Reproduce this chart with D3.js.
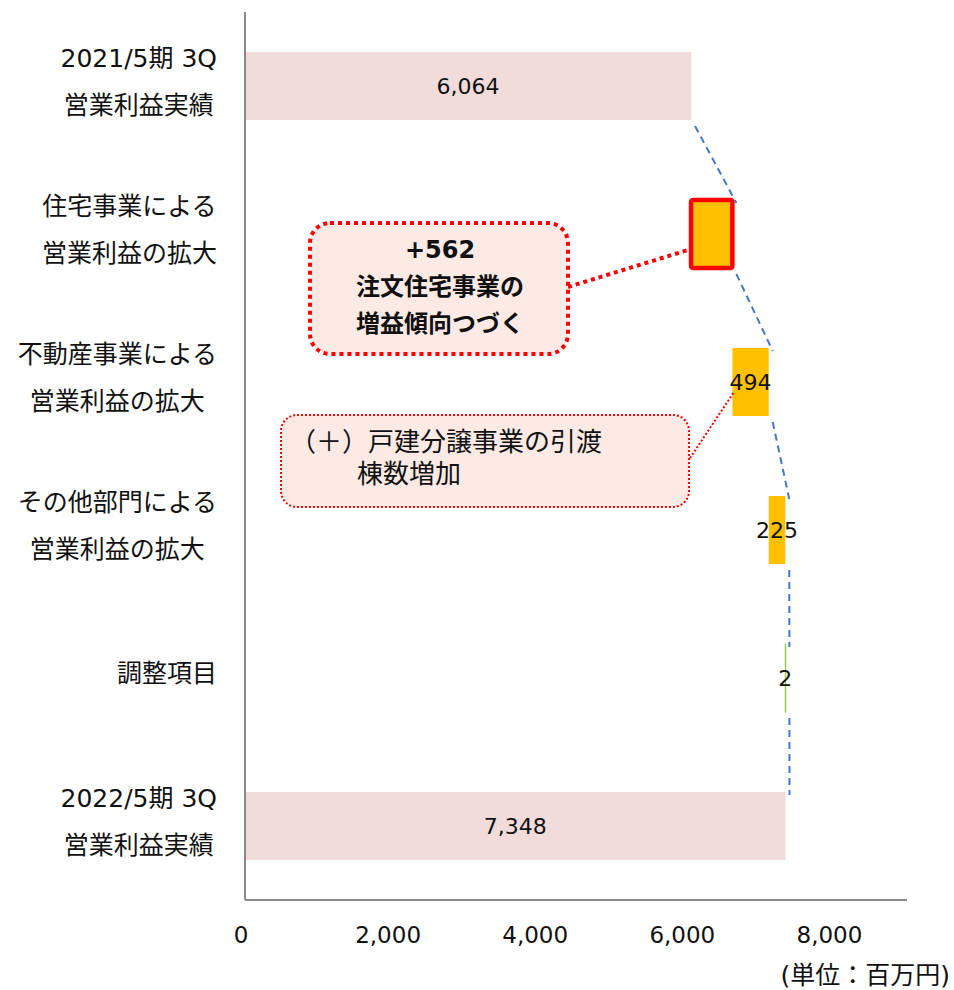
<!DOCTYPE html>
<html>
<head>
<meta charset="utf-8">
<script src="https://cdn.jsdelivr.net/npm/d3@7"></script>
<style>
  body { margin: 0; background: #fff; }
  svg text { font-family: 'DejaVu Sans', 'Noto Sans CJK JP', sans-serif; }
</style>
</head>
<body>
<svg id="chart" width="954" height="990"></svg>
<script>
// waterfall data
const categories = [
    ["2021/5期 3Q", "営業利益実績"],
    ["住宅事業による", "営業利益の拡大"],
    ["不動産事業による", "営業利益の拡大"],
    ["その他部門による", "営業利益の拡大"],
    ["調整項目"],
    ["2022/5期 3Q", "営業利益実績"]
];
const values = [6064, 562, 494, 225, 2, 7348];
const kinds = ["total", "delta", "delta", "delta", "delta", "total"];
const tickValues = [0, 2000, 4000, 6000, 8000];
const unitLabel = "(単位：百万円)";
const note1Lines = ["注文住宅事業の", "増益傾向つづく"];
const note2Lines = ["（＋）戸建分譲事業の引渡", "棟数増加"];

const svg = d3.select("#chart");
const plotLeft = 245, plotRight = 907, plotTop = 12, plotBottom = 900;

let x = d3.scaleLinear().domain([0, 9000]).range([plotLeft, plotRight]);
let y = d3.scaleBand().domain(d3.range(values.length))
    .range([plotTop, plotBottom]).paddingInner(0.54).paddingOuter(0.27);

// start / end of every bar
let cum = 0;
let bars = values.map(function(v, i) {
    let b;
    if (kinds[i] === "total") { b = {i: i, v: v, x0: 0, x1: v}; cum = v; }
    else { b = {i: i, v: v, x0: cum, x1: cum + v}; cum += v; }
    return b;
});

// dashed connectors between bars
const dx = 4;
for (let i = 0; i < bars.length - 1; i++) {
    svg.append("line")
        .attr("x1", x(bars[i].x1) + dx).attr("y1", y(i) + y.bandwidth() + 6)
        .attr("x2", x(bars[i + 1].x1) + dx)
        .attr("y2", y(i + 1) + 3)
        .attr("stroke", "#4677c2").attr("stroke-width", 2)
        .attr("stroke-dasharray", "7 5");
}

// bars
svg.selectAll("rect.bar").data(bars).enter().append("rect")
    .attr("class", "bar")
    .attr("x", d => x(d.x0))
    .attr("y", d => y(d.i))
    .attr("width", d => Math.max(0.5, x(d.x1) - x(d.x0)))
    .attr("height", y.bandwidth())
    .attr("fill", d => kinds[d.i] === "total" ? "#f2dcdb" : (d.v < 10 ? "none" : "#ffc000"))
    .attr("stroke", d => d.i === 1 ? "#ff0000" : (d.v < 10 ? "#92d050" : "none"))
    .attr("stroke-width", d => d.i === 1 ? 4.5 : 1)
    .attr("rx", d => d.i === 1 ? 2 : 0);

// value labels
svg.selectAll("text.val").data(bars.filter(d => d.i !== 1)).enter().append("text")
    .attr("class", "val")
    .attr("x", d => (x(d.x0) + x(d.x1)) / 2)
    .attr("y", d => y(d.i) + y.bandwidth() / 2)
    .attr("dy", "0.36em")
    .attr("text-anchor", "middle")
    .attr("font-size", 22)
    .attr("fill", "#111")
    .text(d => d3.format(",")(d.v));

// axes lines
svg.append("line").attr("x1", plotLeft).attr("x2", plotLeft).attr("y1", plotTop).attr("y2", plotBottom)
    .attr("stroke", "#898989").attr("stroke-width", 2);
svg.append("line").attr("x1", plotLeft).attr("x2", plotRight).attr("y1", plotBottom).attr("y2", plotBottom)
    .attr("stroke", "#898989").attr("stroke-width", 2);

// x tick labels
svg.selectAll("text.tick").data(tickValues).enter().append("text")
    .attr("class", "tick")
    .attr("x", d => x(d) - 4)
    .attr("y", 935)
    .attr("dy", "0.36em")
    .attr("text-anchor", "middle")
    .attr("font-size", 23)
    .attr("fill", "#111")
    .text(d => d3.format(",")(d));

svg.append("text").attr("x", 950).attr("y", 975).attr("dy", "0.36em")
    .attr("text-anchor", "end").attr("font-size", 25).attr("fill", "#111")
    .text(unitLabel);

// category labels: lines centred, block right-aligned
categories.forEach(function(lines, i) {
    let cy = y(i) + y.bandwidth() / 2 - 5;
    let g = svg.append("g");
    let texts = lines.map(function(t, k) {
        return g.append("text")
            .attr("y", cy + (k - (lines.length - 1) / 2) * 47)
            .attr("dy", "0.36em")
            .attr("text-anchor", "middle")
            .attr("font-size", 25)
            .attr("fill", "#111")
            .text(t);
    });
    let w = d3.max(texts, t => t.node().getComputedTextLength());
    texts.forEach(t => t.attr("x", 217 - w / 2));
});

// annotation 1 : housing
let b2 = bars[1];
svg.append("line")
    .attr("x1", 568).attr("y1", 287)
    .attr("x2", x(b2.x0) - 3).attr("y2", y(1) + 50)
    .attr("stroke", "#ff0000").attr("stroke-width", 4).attr("stroke-dasharray", "4 4");
svg.append("rect")
    .attr("x", 310).attr("y", 223).attr("width", 258).attr("height", 131)
    .attr("rx", 20).attr("ry", 20)
    .attr("fill", "#fdeae5").attr("stroke", "#ff0000")
    .attr("stroke-width", 4).attr("stroke-dasharray", "4 4");
svg.append("text").attr("x", 440).attr("y", 249).attr("dy", "0.36em")
    .attr("text-anchor", "middle").attr("font-size", 24).attr("font-weight", "bold")
    .attr("fill", "#111").text(d3.format("+,")(b2.v));
note1Lines.forEach(function(t, k) {
    svg.append("text").attr("x", 440).attr("y", 286 + k * 37).attr("dy", "0.36em")
        .attr("text-anchor", "middle").attr("font-size", 24).attr("font-weight", "bold")
        .attr("fill", "#111").text(t);
});

// annotation 2 : real estate
let b3 = bars[2];
svg.append("line")
    .attr("x1", 690).attr("y1", 458)
    .attr("x2", x(b3.x0) + 1).attr("y2", y(2) + 45)
    .attr("stroke", "#ff0000").attr("stroke-width", 2).attr("stroke-dasharray", "2 2");
svg.append("rect")
    .attr("x", 281).attr("y", 415).attr("width", 408).attr("height", 92)
    .attr("rx", 16).attr("ry", 16)
    .attr("fill", "#fdeae5").attr("stroke", "#ff0000")
    .attr("stroke-width", 2).attr("stroke-dasharray", "2 2");
svg.append("text").attr("x", 290).attr("y", 442).attr("dy", "0.36em")
    .attr("font-size", 26).attr("fill", "#111").text(note2Lines[0]);
svg.append("text").attr("x", 357).attr("y", 474).attr("dy", "0.36em")
    .attr("font-size", 26).attr("fill", "#111").text(note2Lines[1]);
</script>
</body>
</html>
